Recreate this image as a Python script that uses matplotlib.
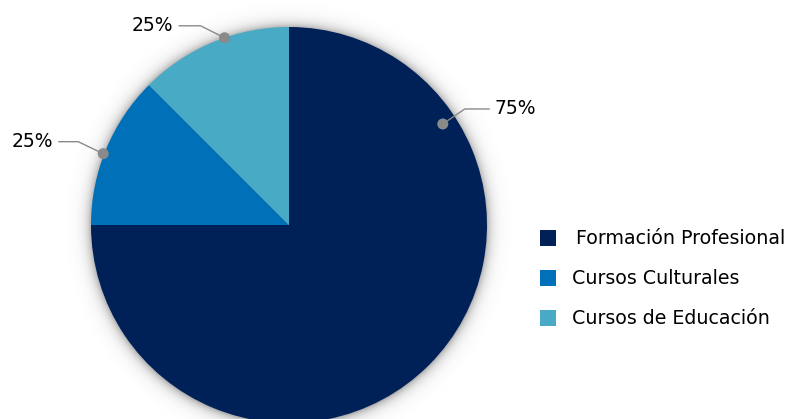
import numpy as np
import matplotlib
matplotlib.use("Agg")
import matplotlib.pyplot as plt
from matplotlib.patches import Rectangle, Circle

# Data
categories = ["Formación Profesional", "Cursos Culturales", "Cursos de Educación"]
shares = [75, 12.5, 12.5]
label_texts = ["75%", "25%", "25%"]
colors = ["#002157", "#0070B9", "#48AAC4"]

W, H = 787, 419
fig = plt.figure(figsize=(W / 100, H / 100), dpi=100)
ax = fig.add_axes([0, 0, 1, 1])

cx, cy, R = 289, H - 225, 198

# soft drop shadow around the disc
yy, xx = np.mgrid[0:H, 0:W]
d = np.hypot(xx + 0.5 - cx, (H - yy - 0.5) - (cy - 1.0))
alpha = np.exp(-np.clip(d - (R - 2), 0, None) / 5.5) * 0.6
shadow = np.zeros((H, W, 4))
shadow[..., :3] = 0.3
shadow[..., 3] = alpha
ax.imshow(shadow, extent=(0, W, 0, H), origin="upper", zorder=0, interpolation="bilinear")

wedges, _ = ax.pie(shares, colors=colors, startangle=90, counterclock=False,
                   center=(cx, cy), radius=R, frame=True,
                   wedgeprops=dict(linewidth=0, zorder=2))

# value callouts: dot on the slice, elbow leader, label
callouts = [
    # (angle deg, dot radius, elbow dx, elbow dy, end dx, ha)
    (33.3, 184, 22, 15, 47, "left"),
    (159.0, 199, -25, 12, -45, "right"),
    (109.0, 198, -24, 12, -46, "right"),
]
for text, (ang, rr, ex, ey, hx, ha) in zip(label_texts, callouts):
    a = np.deg2rad(ang)
    px, py = cx + rr * np.cos(a), cy + rr * np.sin(a)
    ax.plot([px, px + ex, px + hx], [py, py + ey, py + ey], color="#8a8a8a",
            lw=1.0, zorder=4, solid_capstyle="butt")
    ax.add_patch(Circle((px, py), 5.5, color="#8a8a8a", zorder=5, lw=0))
    tx = px + hx + (5 if ha == "left" else -5)
    ax.text(tx, py + ey, text, ha=ha, va="center", fontsize=13.5,
            color="#000000", family="DejaVu Sans", zorder=6)

# legend
for i, (name, col) in enumerate(zip(categories, colors)):
    y = H - (238 + 40 * i)
    ax.add_patch(Rectangle((540, y - 8), 16, 16, color=col, lw=0, zorder=3))
    ax.text(572 if i else 576, y, name, ha="left", va="center", fontsize=13.7,
            color="#000000", family="DejaVu Sans", zorder=3)

ax.set_xlim(0, W)
ax.set_ylim(0, H)
ax.set_aspect("auto")
ax.axis("off")

fig.savefig("out.png", dpi=100, facecolor="white")
